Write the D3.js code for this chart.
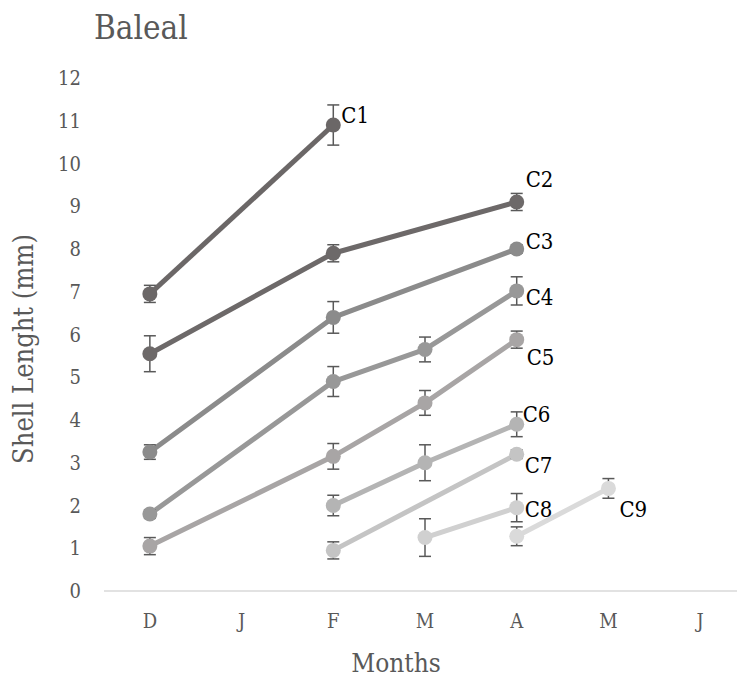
<!DOCTYPE html>
<html>
<head>
<meta charset="utf-8">
<script src="https://cdn.jsdelivr.net/npm/d3@7"></script>
<style>
  html, body { margin: 0; padding: 0; background: #fff; }
  svg { display: block; font-family: "DejaVu Serif Condensed", "DejaVu Serif", serif; font-stretch: condensed; }
</style>
</head>
<body>
<svg id="chart" width="737" height="680"></svg>
<script>
// Month categories along the x axis (Dec .. Jun)
const months = ["D", "J", "F", "M", "A", "M", "J"];
const yTicks = [0, 1, 2, 3, 4, 5, 6, 7, 8, 9, 10, 11, 12];

// Cohort names
const cohorts = ["C1", "C2", "C3", "C4", "C5", "C6", "C7", "C8", "C9"];

// Month index (into months) sampled for each cohort
const cohortMonths = [
  [0, 2],
  [0, 2, 4],
  [0, 2, 4],
  [0, 2, 3, 4],
  [0, 2, 3, 4],
  [2, 3, 4],
  [2, 4],
  [3, 4],
  [4, 5]
];

// Mean shell length (mm)
const cohortMeans = [
  [6.95, 10.9],
  [5.55, 7.9, 9.1],
  [3.25, 6.4, 8.0],
  [1.8, 4.9, 5.65, 7.02],
  [1.05, 3.15, 4.4, 5.88],
  [2.0, 3.0, 3.9],
  [0.95, 3.2],
  [1.25, 1.95],
  [1.28, 2.4]
];

// Error bar half-widths (mm)
const cohortErrors = [
  [0.2, 0.47],
  [0.42, 0.2, 0.2],
  [0.17, 0.37, 0.1],
  [0.1, 0.35, 0.29, 0.33],
  [0.2, 0.3, 0.29, 0.2],
  [0.24, 0.42, 0.29],
  [0.2, 0.1],
  [0.44, 0.33],
  [0.22, 0.23]
];

const cohortColors = ["#6b6767", "#6d6969", "#8b8b8b", "#989898", "#a8a5a5",
                      "#b4b4b4", "#c4c4c4", "#d0d0d0", "#dadada"];

const svg = d3.select("#chart");

const x = d3.scaleBand()
  .domain(d3.range(months.length))
  .range([104, 746]);
const cx = i => x(i) + x.bandwidth() / 2;

const y = d3.scaleLinear().domain([0, 12]).range([591, 78]);

// Title
svg.append("text")
  .attr("x", 94).attr("y", 39)
  .attr("font-size", 33).attr("fill", "#595959")
  .text("Baleal");

// Baseline
svg.append("line")
  .attr("x1", 104).attr("x2", 737)
  .attr("y1", y(0)).attr("y2", y(0))
  .attr("stroke", "#d9d9d9").attr("stroke-width", 1.5);

// Y tick labels
svg.append("g").selectAll("text")
  .data(yTicks).join("text")
  .attr("x", 81).attr("y", d => y(d))
  .attr("dy", "0.35em")
  .attr("text-anchor", "end")
  .attr("font-size", 20).attr("fill", "#595959")
  .text(d => d);

// X tick labels
svg.append("g").selectAll("text")
  .data(months.map((m, i) => ({ m, i }))).join("text")
  .attr("x", d => cx(d.i)).attr("y", 621)
  .attr("dy", "0.35em")
  .attr("text-anchor", "middle")
  .attr("font-size", 20).attr("fill", "#595959")
  .text(d => d.m);

// Axis titles
svg.append("text")
  .attr("x", 396).attr("y", 672)
  .attr("text-anchor", "middle")
  .attr("font-size", 26).attr("fill", "#595959")
  .text("Months");

svg.append("text")
  .attr("transform", "translate(33,349) rotate(-90)")
  .attr("text-anchor", "middle")
  .attr("font-size", 27).attr("fill", "#595959")
  .text("Shell Lenght (mm)");

// Build series rows from the arrays
const series = cohorts.map((name, k) => ({
  name,
  color: cohortColors[k],
  pts: cohortMonths[k].map((m, j) => ({ m, v: cohortMeans[k][j], e: cohortErrors[k][j] }))
}));

const line = d3.line().x(d => cx(d.m)).y(d => y(d.v));

const g = svg.append("g");
series.forEach(s => {
  const sg = g.append("g");
  sg.append("path")
    .attr("d", line(s.pts))
    .attr("fill", "none")
    .attr("stroke", s.color)
    .attr("stroke-width", 5)
    .attr("stroke-linejoin", "round");
  // error bars
  const eb = sg.selectAll("g.eb").data(s.pts).join("g");
  eb.append("line")
    .attr("x1", d => cx(d.m)).attr("x2", d => cx(d.m))
    .attr("y1", d => y(d.v + d.e)).attr("y2", d => y(d.v - d.e))
    .attr("stroke", "#595959").attr("stroke-width", 1.5);
  [1, -1].forEach(sign => {
    eb.append("line")
      .attr("x1", d => cx(d.m) - 6).attr("x2", d => cx(d.m) + 6)
      .attr("y1", d => y(d.v + sign * d.e)).attr("y2", d => y(d.v + sign * d.e))
      .attr("stroke", "#595959").attr("stroke-width", 1.5);
  });
  sg.selectAll("circle").data(s.pts).join("circle")
    .attr("cx", d => cx(d.m)).attr("cy", d => y(d.v))
    .attr("r", 7.5)
    .attr("fill", s.color);
});

// Cohort labels beside the last point of each series (dx, baseline dy)
const labelOffsets = {
  C1: [8, -2], C2: [9, -15], C3: [9, 0], C4: [9, 14], C5: [10, 25],
  C6: [6, -2], C7: [8, 19], C8: [8, 9], C9: [11, 29]
};
series.forEach(s => {
  const last = s.pts[s.pts.length - 1];
  const off = labelOffsets[s.name];
  svg.append("text")
    .attr("x", cx(last.m) + off[0])
    .attr("y", y(last.v) + off[1])
    .attr("font-size", 22).attr("fill", "#000")
    .text(s.name);
});
</script>
</body>
</html>
